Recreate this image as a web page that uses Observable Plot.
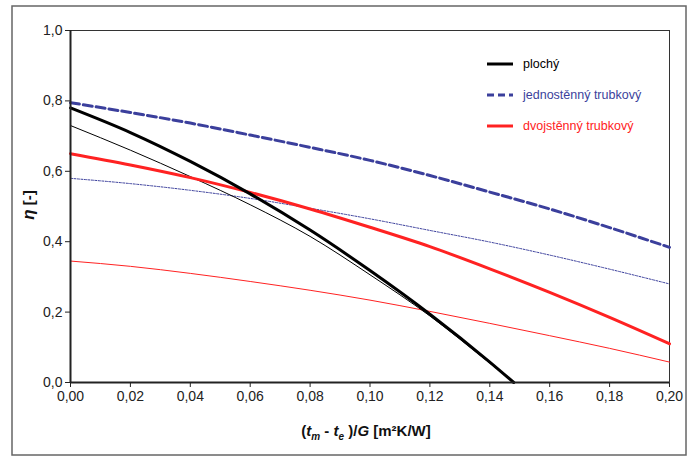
<!DOCTYPE html>
<html><head><meta charset="utf-8">
<script src="https://cdn.jsdelivr.net/npm/d3@7"></script>
<script src="https://cdn.jsdelivr.net/npm/@observablehq/plot@0.6"></script>
<style>body{margin:0;background:#fff} svg{display:block}</style>
</head><body><div id="chart"></div><script>
// ---- data ----
const xGrid = [0, 0.02, 0.04, 0.06, 0.08, 0.10, 0.12, 0.14, 0.16, 0.18, 0.20];
const xFlat = [0, 0.02, 0.04, 0.06, 0.08, 0.10, 0.12, 0.14, 0.148];
const flatThick = [0.780, 0.710, 0.628, 0.536, 0.433, 0.318, 0.194, 0.058, 0];
const flatThin  = [0.730, 0.660, 0.585, 0.505, 0.415, 0.306, 0.189, 0.055, 0];
const singleThick = [0.795, 0.767, 0.737, 0.703, 0.668, 0.631, 0.588, 0.541, 0.493, 0.440, 0.384];
const singleThin  = [0.580, 0.565, 0.546, 0.523, 0.495, 0.465, 0.432, 0.399, 0.362, 0.322, 0.280];
const doubleThick = [0.650, 0.618, 0.582, 0.540, 0.493, 0.441, 0.386, 0.323, 0.256, 0.185, 0.110];
const doubleThin  = [0.345, 0.330, 0.310, 0.287, 0.262, 0.234, 0.202, 0.168, 0.133, 0.097, 0.058];
const xTicks = [0, 0.02, 0.04, 0.06, 0.08, 0.10, 0.12, 0.14, 0.16, 0.18, 0.20];
const yTicks = [0, 0.2, 0.4, 0.6, 0.8, 1.0];
const legendLabels = ["plochý", "jednostěnný trubkový", "dvojstěnný trubkový"];
const BLACK = "#000", BLUE = "#3b3f9c", RED = "#ff2222";
const legendColors = [BLACK, BLUE, RED];
const legendDash = [null, "7,4", null];

const pts = (xs, ys) => xs.map((x, i) => ({x, y: ys[i]}));
const FONT = "'Liberation Sans Narrow', 'Liberation Sans', Arial, sans-serif";

const chart = Plot.plot({
  width: 694, height: 457,
  marginLeft: 70, marginRight: 25, marginTop: 30, marginBottom: 75,
  style: {fontFamily: FONT, fontSize: "14px", color: "#222", background: "#fff"},
  x: {domain: [0, 0.2]},
  y: {domain: [0, 1]},
  marks: [
    Plot.axisY(yTicks, {tickFormat: d => d.toFixed(1).replace(".", ","), tickSize: 5, tickPadding: 3, label: null, stroke: "#222"}),
    Plot.axisX(xTicks, {tickFormat: d => d.toFixed(2).replace(".", ","), tickSize: 5, tickPadding: 4, label: null, stroke: "#222"}),
    Plot.frame({stroke: "#333", strokeWidth: 1}),
    Plot.line(pts(xGrid, doubleThin), {x: "x", y: "y", stroke: RED, strokeWidth: 1, curve: "monotone-x"}),
    Plot.line(pts(xGrid, singleThin), {x: "x", y: "y", stroke: BLUE, strokeWidth: 1, strokeDasharray: "2,1.5", curve: "monotone-x"}),
    Plot.line(pts(xFlat, flatThin), {x: "x", y: "y", stroke: BLACK, strokeWidth: 1, curve: "monotone-x"}),
    Plot.line(pts(xGrid, doubleThick), {x: "x", y: "y", stroke: RED, strokeWidth: 3, curve: "monotone-x"}),
    Plot.line(pts(xGrid, singleThick), {x: "x", y: "y", stroke: BLUE, strokeWidth: 3, strokeDasharray: "9,4", curve: "monotone-x"}),
    Plot.line(pts(xFlat, flatThick), {x: "x", y: "y", stroke: BLACK, strokeWidth: 3, curve: "monotone-x"}),
    Plot.ruleY([0], {stroke: "#222", strokeWidth: 2}),
    Plot.ruleX([0], {stroke: "#222", strokeWidth: 2})
  ]
});
document.getElementById("chart").appendChild(chart);

const svg = d3.select(chart);
// outer border
svg.append("rect").attr("x", 12).attr("y", 6).attr("width", 674).attr("height", 449)
  .attr("fill", "none").attr("stroke", "#666").attr("stroke-width", 1.5);

// legend
const lg = svg.append("g").attr("font-family", FONT).attr("font-size", 12.5).attr("text-anchor", "start");
legendLabels.forEach((lab, i) => {
  const y = 64 + i * 31;
  lg.append("line").attr("x1", 487).attr("x2", 513).attr("y1", y).attr("y2", y)
    .attr("stroke", legendColors[i]).attr("stroke-width", 3)
    .attr("stroke-dasharray", legendDash[i]);
  lg.append("text").attr("x", 523).attr("y", y).attr("dy", "0.35em")
    .attr("text-anchor", "start").attr("fill", legendColors[i]).text(lab);
});

// x axis label
const xl = svg.append("text").attr("x", 366).attr("y", 436).attr("text-anchor", "middle")
  .attr("font-family", FONT).attr("font-size", 15).attr("font-weight", "bold").attr("fill", "#111");
xl.append("tspan").text("(");
xl.append("tspan").attr("font-style", "italic").text("t");
xl.append("tspan").attr("font-style", "italic").attr("font-size", 10).attr("dy", 4).text("m");
xl.append("tspan").attr("dy", -4).text(" - ");
xl.append("tspan").attr("font-style", "italic").text("t");
xl.append("tspan").attr("font-style", "italic").attr("font-size", 10).attr("dy", 4).text("e");
xl.append("tspan").attr("dy", -4).text(" )/");
xl.append("tspan").attr("font-style", "italic").text("G");
xl.append("tspan").text(" [m²K/W]");

// y axis label
const yl = svg.append("text").attr("transform", "translate(34,205) rotate(-90)").attr("text-anchor", "middle")
  .attr("font-family", FONT).attr("font-size", 15).attr("font-weight", "bold").attr("fill", "#111");
yl.append("tspan").attr("font-style", "italic").attr("font-size", 17).text("η");
yl.append("tspan").text(" [-]");
</script></body></html>
